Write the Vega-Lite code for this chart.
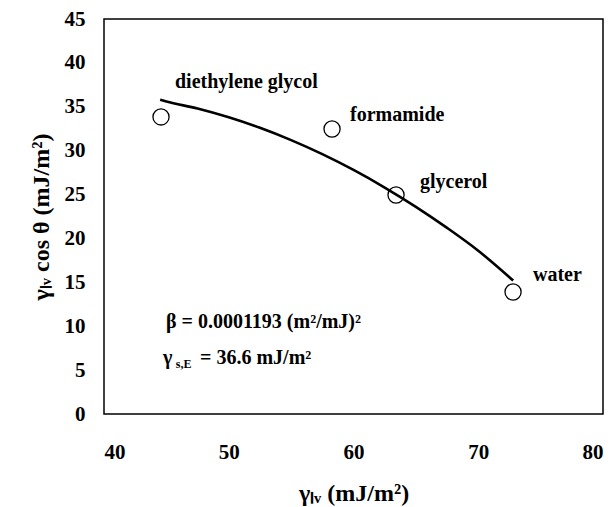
{
  "$schema": "https://vega.github.io/schema/vega-lite/v6.json",
  "width": 499,
  "height": 395,
  "autosize": {"type": "none"},
  "padding": {"left": 104, "top": 19, "right": 12, "bottom": 93},
  "background": "white",
  "config": {
    "view": {"stroke": "black", "strokeWidth": 1.5},
    "font": "Liberation Serif",
    "axis": {
      "labelFont": "Liberation Serif",
      "titleFont": "Liberation Serif",
      "labelFontWeight": "bold",
      "titleFontWeight": "bold",
      "labelColor": "black",
      "titleColor": "black",
      "labelFontSize": 21,
      "titleFontSize": 24,
      "grid": false,
      "ticks": false,
      "domain": false
    }
  },
  "datasets": {
    "points": [
      {"liquid": "diethylene glycol", "glv": 44.57, "val": 33.84},
      {"liquid": "formamide", "glv": 58.28, "val": 32.47},
      {"liquid": "glycerol", "glv": 63.41, "val": 24.95},
      {"liquid": "water", "glv": 72.79, "val": 13.9}
    ],
    "curve": [
      {"glv": 44.5, "val": 35.8},
      {"glv": 45.0, "val": 35.6},
      {"glv": 47.5, "val": 34.8},
      {"glv": 50.0, "val": 33.8},
      {"glv": 52.5, "val": 32.6},
      {"glv": 55.0, "val": 31.2},
      {"glv": 57.5, "val": 29.6},
      {"glv": 60.0, "val": 27.8},
      {"glv": 62.5, "val": 25.8},
      {"glv": 65.0, "val": 23.6},
      {"glv": 67.5, "val": 21.2},
      {"glv": 70.0, "val": 18.6},
      {"glv": 72.8, "val": 15.2}
    ],
    "labels": [
      {"text": "diethylene glycol", "glv": 45.69, "val": 37.8},
      {"text": "formamide", "glv": 59.72, "val": 34.06},
      {"text": "glycerol", "glv": 65.33, "val": 26.43},
      {"text": "water", "glv": 74.39, "val": 15.84}
    ],
    "notes": [
      {"text": "β = 0.0001193 (m²/mJ)²", "glv": 44.97, "val": 10.48},
      {"text": "γ", "glv": 44.73, "val": 6.38},
      {"text": "= 36.6 mJ/m²", "glv": 47.7, "val": 6.38}
    ],
    "subs": [
      {"text": "s,E", "glv": 45.75, "val": 5.75}
    ]
  },
  "layer": [
    {
      "data": {"name": "curve"},
      "mark": {"type": "line", "color": "black", "strokeWidth": 2.6, "interpolate": "monotone"},
      "encoding": {
        "x": {
          "field": "glv", "type": "quantitative",
          "scale": {"domain": [40, 80], "nice": false, "zero": false},
          "axis": {"values": [40, 50, 60, 70, 80], "labelPadding": 27, "title": "γₗᵥ (mJ/m²)", "titlePadding": 19}
        },
        "y": {
          "field": "val", "type": "quantitative",
          "scale": {"domain": [0, 45], "nice": false},
          "axis": {"values": [0, 5, 10, 15, 20, 25, 30, 35, 40, 45], "labelPadding": 19, "title": "γₗᵥ cos θ (mJ/m²)", "titlePadding": 11}
        }
      }
    },
    {
      "data": {"name": "points"},
      "mark": {"type": "point", "shape": "circle", "filled": false, "color": "black", "size": 260, "strokeWidth": 1.3, "fill": "white", "fillOpacity": 0},
      "encoding": {
        "x": {"field": "glv", "type": "quantitative"},
        "y": {"field": "val", "type": "quantitative"}
      }
    },
    {
      "data": {"name": "labels"},
      "mark": {"type": "text", "align": "left", "baseline": "middle", "fontSize": 20, "fontWeight": "bold", "font": "Liberation Serif", "color": "black"},
      "encoding": {
        "x": {"field": "glv", "type": "quantitative"},
        "y": {"field": "val", "type": "quantitative"},
        "text": {"field": "text"}
      }
    },
    {
      "data": {"name": "notes"},
      "mark": {"type": "text", "align": "left", "baseline": "middle", "fontSize": 20, "fontWeight": "bold", "font": "Liberation Serif", "color": "black"},
      "encoding": {
        "x": {"field": "glv", "type": "quantitative"},
        "y": {"field": "val", "type": "quantitative"},
        "text": {"field": "text"}
      }
    },
    {
      "data": {"name": "subs"},
      "mark": {"type": "text", "align": "left", "baseline": "middle", "fontSize": 12, "fontWeight": "bold", "font": "Liberation Serif", "color": "black"},
      "encoding": {
        "x": {"field": "glv", "type": "quantitative"},
        "y": {"field": "val", "type": "quantitative"},
        "text": {"field": "text"}
      }
    }
  ]
}
